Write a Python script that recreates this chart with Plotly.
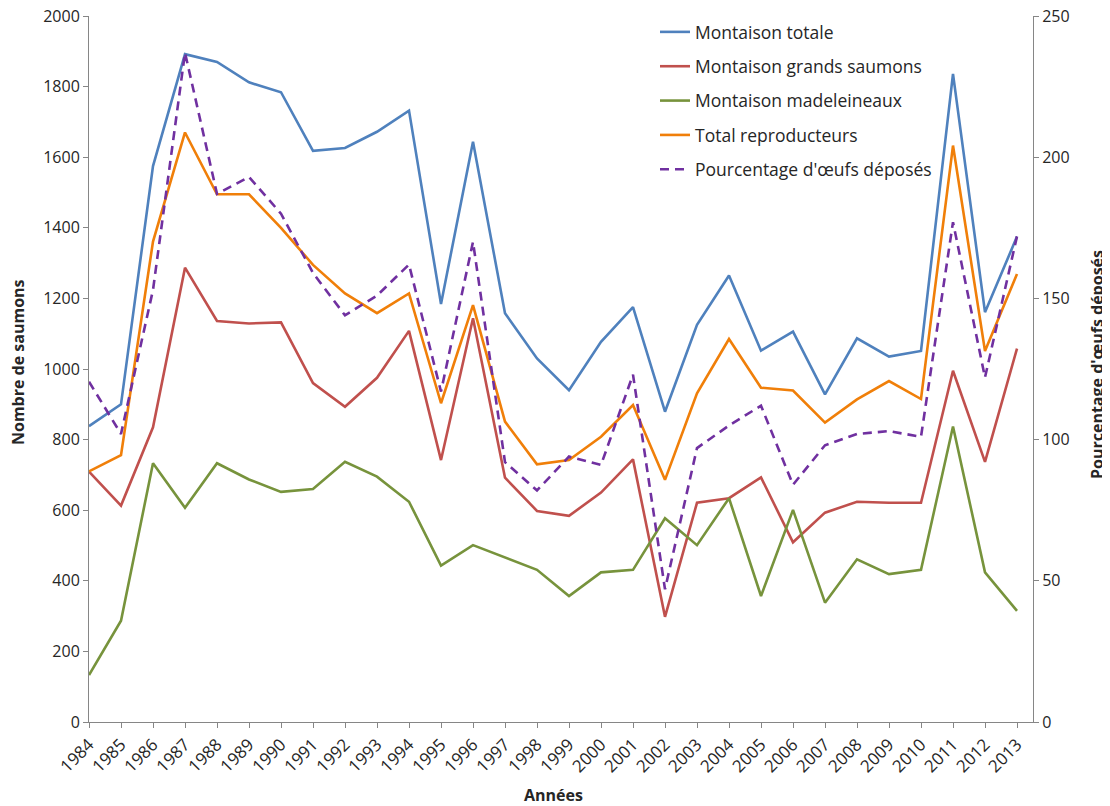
import plotly.graph_objects as go

years = list(range(1984, 2014))
montaison_totale = [838, 900, 1575, 1892, 1870, 1812, 1784, 1618, 1626, 1672, 1732, 1184, 1644, 1158, 1030,
                    940, 1077, 1175, 879, 1125, 1265, 1052, 1106, 928, 1087, 1035, 1051, 1836, 1161, 1375]
grands_saumons = [709, 613, 835, 1287, 1136, 1129, 1132, 960, 893, 975, 1108, 742, 1144, 692, 598,
                  584, 650, 744, 298, 621, 634, 693, 509, 593, 624, 621, 621, 995, 737, 1058]
madeleineaux = [133, 287, 733, 607, 733, 687, 652, 660, 737, 695, 624, 443, 501, 466, 431,
                357, 424, 431, 577, 501, 634, 357, 601, 338, 461, 419, 431, 837, 424, 315]
total_reproducteurs = [710, 756, 1361, 1670, 1495, 1495, 1400, 1295, 1214, 1158, 1214, 903, 1181, 851, 730,
                       742, 808, 898, 686, 931, 1085, 947, 939, 848, 914, 966, 915, 1633, 1051, 1269]
pct_oeufs = [120.5, 102, 153, 237, 187, 193, 180, 159, 144, 151, 162, 117, 170, 92, 82,
             94, 91, 123, 47, 97, 105, 112, 84, 98, 102, 103, 101, 177, 122, 172]

FONT = "Open Sans"
TXT = "#262626"
AXC = "#868686"

# page body has an 8px margin: figure coordinates = window coordinates - 8
OFF = 8
FW, FH = 1110 - OFF, 806 - OFF
L, R, T, B = 89 - OFF, 1033 - OFF, 16 - OFF, 722 - OFF
W, H = R - L, B - T


def px(xw):
    return (xw - OFF - L) / W


def py(yw):
    return (B - (yw - OFF)) / H


fig = go.Figure()
series = [
    ("Montaison totale", montaison_totale, "#4F81BD", "solid", "y"),
    ("Montaison grands saumons", grands_saumons, "#C0504D", "solid", "y"),
    ("Montaison madeleineaux", madeleineaux, "#77933C", "solid", "y"),
    ("Total reproducteurs", total_reproducteurs, "#F07F09", "solid", "y"),
    ("Pourcentage d'œufs déposés", pct_oeufs, "#7030A0", "9px,6px", "y2"),
]
for i, (name, vals, col, dash, ax) in enumerate(series):
    fig.add_trace(go.Scatter(x=years, y=vals, name=name, mode="lines", yaxis=ax,
                             legendgroup=f"g{i}",
                             line=dict(color=col, width=2.6, dash=dash)))

fig.update_layout(
    width=FW, height=FH,
    margin=dict(l=L, r=FW - R, t=T, b=FH - B, autoexpand=False),
    paper_bgcolor="white", plot_bgcolor="white",
    font=dict(family=FONT, size=15, color=TXT),
    showlegend=True,
    legend=dict(x=px(655), y=py(14), xanchor="left", yanchor="top",
                bgcolor="rgba(0,0,0,0)", font=dict(family=FONT, size=17.5, color=TXT),
                traceorder="grouped", tracegroupgap=8.6),
    xaxis=dict(range=[1984, 2013.5], tickvals=years, ticktext=[str(y) for y in years],
               tickangle=-45, showgrid=False, zeroline=False, showline=True, automargin=False,
               linecolor=AXC, linewidth=1, ticks="outside", ticklen=5, tickcolor=AXC,
               ticklabeloverflow="allow",
               tickfont=dict(size=17, color=TXT)),
    yaxis=dict(range=[0, 2000], dtick=200, showgrid=False, zeroline=False, showline=True,
               automargin=False, ticklabeloverflow="allow",
               linecolor=AXC, linewidth=1, ticks="outside", ticklen=5, tickcolor=AXC,
               tickfont=dict(size=16, color=TXT)),
    yaxis2=dict(range=[0, 250], dtick=50, overlaying="y", side="right", showgrid=False,
                automargin=False, ticklabeloverflow="allow",
                zeroline=False, showline=True, linecolor=AXC, linewidth=1, ticks="outside",
                ticklen=5, tickcolor=AXC, tickfont=dict(size=16, color=TXT)),
    annotations=[
        dict(text="<b>Nombre de saumons</b>", xref="paper", yref="paper",
             x=px(18), y=py(362), textangle=-90, showarrow=False,
             xanchor="center", yanchor="middle", font=dict(size=16, color=TXT)),
        dict(text="<b>Pourcentage d'œufs déposés</b>", xref="paper", yref="paper",
             x=px(1097), y=py(365), textangle=-90, showarrow=False,
             xanchor="center", yanchor="middle", font=dict(size=16, color=TXT)),
        dict(text="<b>Années</b>", xref="paper", yref="paper",
             x=px(553), y=py(795), showarrow=False,
             xanchor="center", yanchor="middle", font=dict(size=16, color=TXT)),
    ],
)

fig.write_html("out.html")
